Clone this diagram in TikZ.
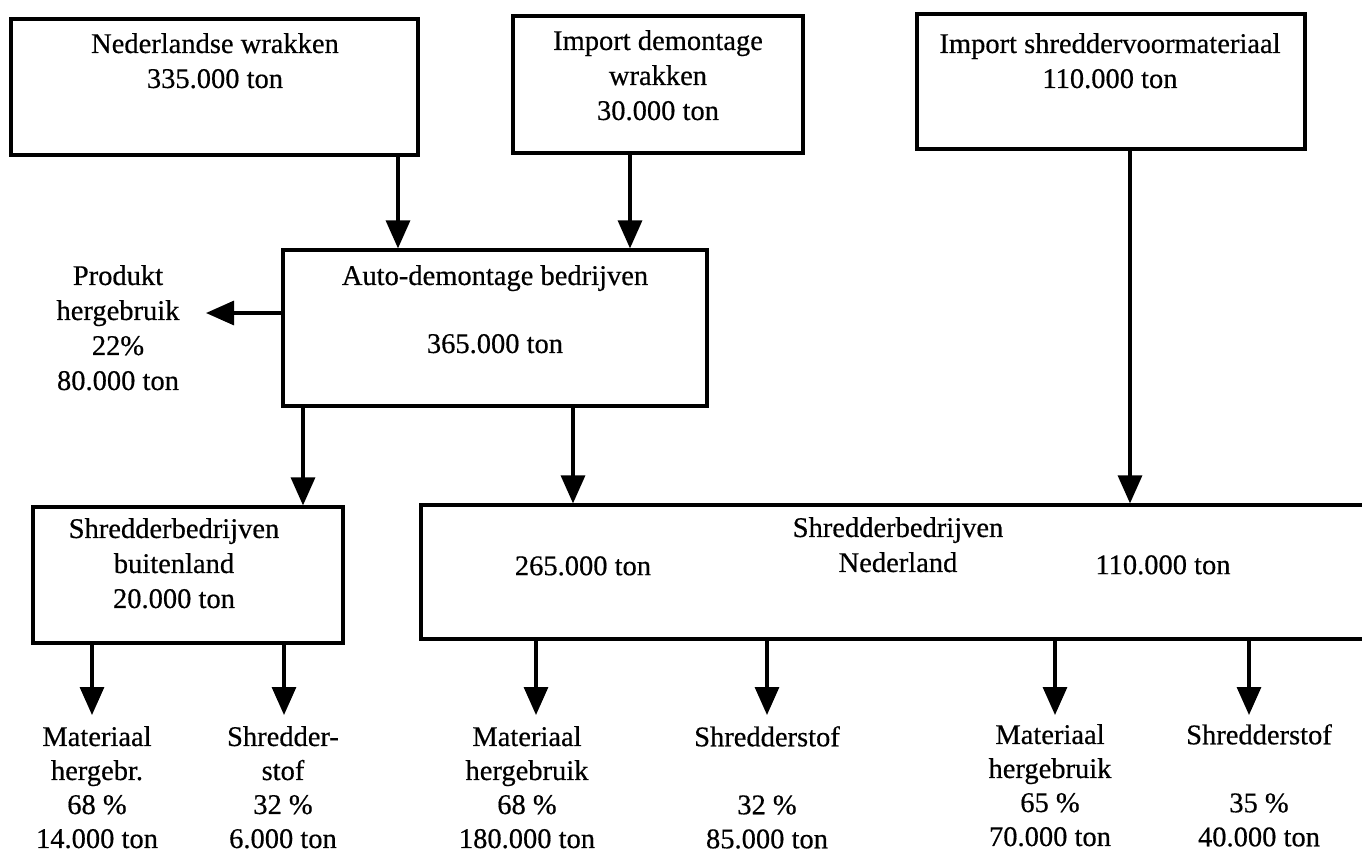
\documentclass[tikz,border=0pt]{standalone}
\usepackage{fontspec}
\setmainfont{Liberation Serif}[FakeBold=0.5]
\usetikzlibrary{arrows.meta}
\tikzset{
  box/.style={draw, line width=3.2pt, inner sep=0pt},
  lbl/.style={font=\fontsize{28.5}{35}\selectfont\addfontfeatures{FakeBold=0.5}, align=center, inner sep=0pt, anchor=north},
  lbs/.style={lbl, font=\fontsize{28.5}{34}\selectfont\addfontfeatures{FakeBold=0.5}},
  arr/.style={line width=3.2pt, -{Triangle[length=28pt,width=24pt]}}
}
\begin{document}
\begin{tikzpicture}[x=1pt,y=-1pt]
\useasboundingbox (0,0) rectangle (1362,855);
\clip (0,0) rectangle (1362,855);
% boxes
\node[box, minimum width=407pt, minimum height=136pt] (A) at (214.5,87) {};
\node[box, minimum width=290pt, minimum height=137pt] (B) at (658,84.5) {};
\node[box, minimum width=388pt, minimum height=135pt] (C) at (1111,81.5) {};
\node[box, minimum width=424pt, minimum height=156pt] (D) at (495,328) {};
\node[box, minimum width=310pt, minimum height=136pt] (E) at (188,575) {};
\node[box, minimum width=979pt, minimum height=134pt] (F) at (910.5,572) {};
% texts
\node[lbl] (tA) at (215,33) {Nederlandse wrakken\\335.000 ton};
\node[lbl] (tB) at (658,30) {Import demontage\\wrakken\\30.000 ton};
\node[lbl] (tC) at (1110,33) {Import shreddervoormateriaal\\110.000 ton};
\node[lbl] (tD) at (495,265) {Auto-demontage bedrijven\\[33pt]365.000 ton};
\node[lbl] (tP) at (118,265) {Produkt\\hergebruik\\22\%\\80.000 ton};
\node[lbl] (tE) at (174,518) {Shredderbedrijven\\buitenland\\20.000 ton};
\node[lbl] (tF1) at (583,556) {265.000 ton};
\node[lbl] (tF2) at (898,517) {Shredderbedrijven\\Nederland};
\node[lbl] (tF3) at (1163,555) {110.000 ton};
\node[lbs] (L1) at (97,726) {Materiaal\\hergebr.\\68 \%\\14.000 ton};
\node[lbs] (L2) at (283,726) {Shredder-\\stof\\32 \%\\6.000 ton};
\node[lbs] (L3) at (527,726) {Materiaal\\hergebruik\\68 \%\\180.000 ton};
\node[lbs] (L4) at (767,726) {Shredderstof\\[34pt]32 \%\\85.000 ton};
\node[lbs] (L5) at (1050,724) {Materiaal\\hergebruik\\65 \%\\70.000 ton};
\node[lbs] (L6) at (1259,724) {Shredderstof\\[34pt]35 \%\\40.000 ton};
% x positions of connectors
\coordinate (xA) at (398,0);
\coordinate (xB) at (630,0);
\coordinate (xC) at (1130,0);
\coordinate (xDE) at (303,0);
\coordinate (xDF) at (573,0);
\coordinate (x1) at (92,0);
\coordinate (x2) at (284,0);
\coordinate (x3) at (536,0);
\coordinate (x4) at (767,0);
\coordinate (x5) at (1055,0);
\coordinate (x6) at (1249,0);
\coordinate (yL) at (0,715);
\coordinate (pt) at (206,313);
% connectors
\draw[arr] (A.south -| xA) -- (D.north -| xA);
\draw[arr] (B.south -| xB) -- (D.north -| xB);
\draw[arr] (C.south -| xC) -- (F.north -| xC);
\draw[arr] (D.west |- pt) -- (pt);
\draw[arr] (D.south -| xDE) -- (E.north -| xDE);
\draw[arr] (D.south -| xDF) -- (F.north -| xDF);
\draw[arr] (E.south -| x1) -- (yL -| x1);
\draw[arr] (E.south -| x2) -- (yL -| x2);
\draw[arr] (F.south -| x3) -- (yL -| x3);
\draw[arr] (F.south -| x4) -- (yL -| x4);
\draw[arr] (F.south -| x5) -- (yL -| x5);
\draw[arr] (F.south -| x6) -- (yL -| x6);
\end{tikzpicture}
\end{document}
